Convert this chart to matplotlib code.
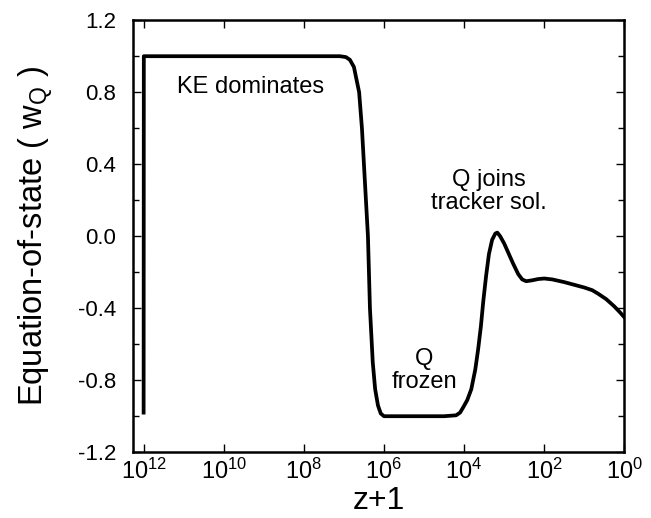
import numpy as np
import matplotlib
matplotlib.use("Agg")
import matplotlib.pyplot as plt

plt.rcParams['font.family'] = ['Liberation Sans', 'DejaVu Sans']
plt.rcParams['mathtext.fontset'] = 'custom'
plt.rcParams['mathtext.rm'] = 'Liberation Sans'
plt.rcParams['mathtext.it'] = 'Liberation Sans'

# log10(z+1) and w_Q
log_zp1 = [12.0, 11.995, 7.1, 6.95, 6.85, 6.75, 6.62, 6.55, 6.5, 6.45, 6.4, 6.35,
           6.28, 6.22, 6.15, 6.08, 6.0, 5.5, 5.0, 4.5, 4.2, 4.1, 4.02, 3.92, 3.82,
           3.72, 3.65, 3.58, 3.52, 3.45, 3.38, 3.3, 3.22, 3.17, 3.1, 3.0, 2.9,
           2.78, 2.65, 2.55, 2.45, 2.3, 2.15, 2.0, 1.8, 1.5, 1.25, 1.0, 0.8,
           0.65, 0.45, 0.25, 0.1, 0.0]
w_q = [-0.98, 1.0, 1.0, 0.995, 0.98, 0.94, 0.8, 0.6, 0.4, 0.2, 0.0, -0.4,
       -0.7, -0.85, -0.94, -0.985, -1.0, -1.0, -1.0, -1.0, -0.995, -0.98, -0.95, -0.91, -0.85,
       -0.74, -0.63, -0.5, -0.36, -0.22, -0.1, -0.02, 0.015, 0.02, 0.0, -0.04, -0.09,
       -0.15, -0.21, -0.24, -0.25, -0.245, -0.238, -0.235, -0.24, -0.255, -0.27, -0.285, -0.3,
       -0.32, -0.35, -0.39, -0.425, -0.45]

x_ticks = [1e12, 1e10, 1e8, 1e6, 1e4, 1e2, 1e0]
x_tick_labels = [r'$10^{12}$', r'$10^{10}$', r'$10^{8}$', r'$10^{6}$',
                 r'$10^{4}$', r'$10^{2}$', r'$10^{0}$']
y_ticks = [-1.2, -0.8, -0.4, 0.0, 0.4, 0.8, 1.2]
y_tick_labels = ['-1.2', '-0.8', '-0.4', '0.0', '0.4', '0.8', '1.2']
y_minor = [-1.0, -0.6, -0.2, 0.2, 0.6, 1.0]

fig = plt.figure(figsize=(6.51, 5.18), dpi=100)
ax = fig.add_axes([0.204, 0.127, 0.755, 0.834])

x = 10.0 ** np.array(log_zp1)
ax.plot(x, w_q, color='black', lw=2.7, solid_joinstyle='round')

ax.set_xscale('log')
ax.set_xlim(10 ** 12.27, 1.0)
ax.set_ylim(-1.2, 1.2)
ax.set_xticks(x_ticks)
ax.set_xticklabels(x_tick_labels, fontsize=17)
ax.xaxis.set_minor_locator(matplotlib.ticker.NullLocator())
ax.set_yticks(y_ticks)
ax.set_yticklabels(y_tick_labels, fontsize=16)
ax.set_yticks(y_minor, minor=True)

ax.tick_params(which='both', direction='in', top=True, right=True, width=1.0)
ax.tick_params(which='major', length=6)
ax.tick_params(which='minor', length=4)
ax.tick_params(axis='y', pad=12)
ax.tick_params(axis='x', pad=5)
for s in ax.spines.values():
    s.set_linewidth(1.8)

ax.set_xlabel('z+1', fontsize=23, labelpad=1)
ax.set_ylabel(r'Equation-of-state ( w$_\mathrm{Q}$ )', fontsize=23.5, labelpad=16)

ax.text(10 ** 9.33, 0.83, 'KE dominates', fontsize=17, ha='center', va='center')
ax.text(10 ** 3.38, 0.25, 'Q joins\ntracker sol.', fontsize=17, ha='center',
        va='center', linespacing=1.05)
ax.text(10 ** 5.0, -0.745, 'Q\nfrozen', fontsize=17, ha='center', va='center',
        linespacing=1.05)

fig.savefig('out.png', dpi=100)
